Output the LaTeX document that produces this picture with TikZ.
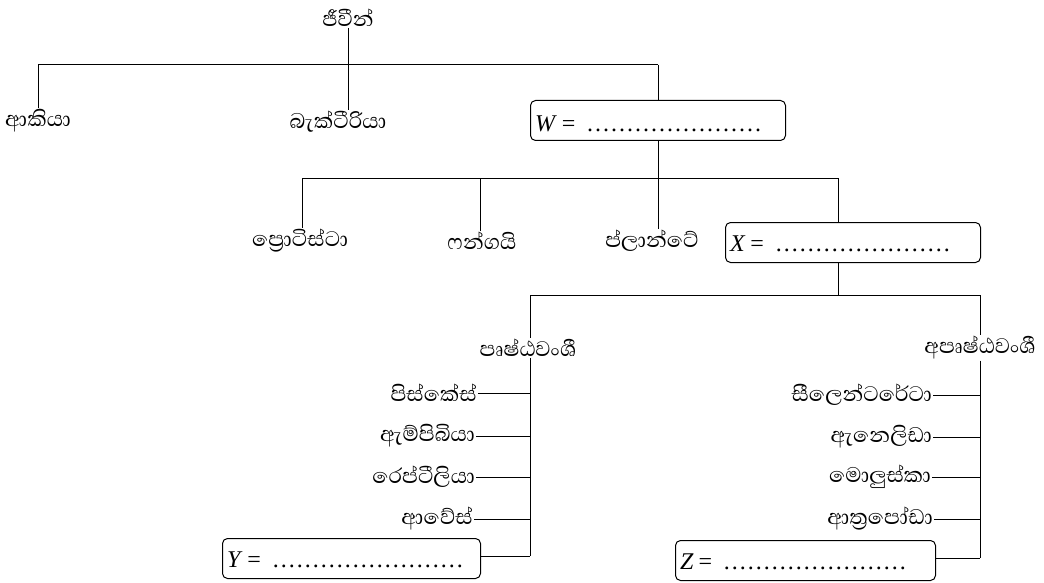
\documentclass[tikz,border=0pt]{standalone}
\usepackage{fontspec}
\setmainfont{Liberation Serif}
\newfontfamily\sinhfont[Script=Sinhala]{Abhaya Libre}
\newcommand\blank[2]{\textit{#1}\hspace{0.2em}=\hspace{0.45em}\hbox to #2{\leaders\hbox to 8pt{\hss.\hss}\hfill}}
\begin{document}
\begin{tikzpicture}[x=1pt,y=-1pt,
  lbl/.style={font=\sinhfont\fontsize{27}{30}\selectfont, inner sep=1pt},
  ansbox/.style={draw, rounded corners=5pt, line width=1pt, minimum height=40pt, anchor=north west, inner sep=0pt},
  anstxt/.style={anchor=west, inner sep=0pt, font=\fontsize{24}{26}\selectfont},
  ln/.style={line width=1pt}]
\useasboundingbox (0,0) rectangle (1044,583);
% level 0
\node[lbl] (root) at (348,18) {ජීවීන්};
\coordinate (r1) at (348,65);
\coordinate (rl) at (38,65);
\coordinate (rr) at (658,65);
\node[lbl] (arch) at (38,121) {ආකියා};
\node[lbl] (bact) at (338,122) {බැක්ටීරියා};
\node[ansbox, minimum width=255pt] (W) at (530,100) {};
\node[anstxt] at (535,124) {\blank{W}{178pt}};
\draw[ln] (root.south) -- (r1);
\draw[ln] (rl) -- (rr);
\draw[ln] (rl) -- (arch.north -| rl);
\draw[ln] (r1) -- (bact.north -| r1);
\draw[ln] (rr) -- (W.north -| rr);
% level 1
\coordinate (w1) at (658,178);
\coordinate (wl) at (302,178);
\coordinate (wr) at (838,178);
\node[lbl] (prot) at (300,241) {ප්‍රොටිස්ටා};
\node[lbl] (fung) at (482,241) {ෆන්ගයි};
\node[lbl] (plan) at (652,241) {ප්ලාන්ටේ};
\node[ansbox, minimum width=255pt] (X) at (725,222) {};
\node[anstxt] at (730,244) {\blank{X}{180pt}};
\draw[ln] (W.south -| w1) -- (w1);
\draw[ln] (wl) -- (wr);
\draw[ln] (wl) -- (prot.north -| wl);
\draw[ln] (480,178) -- (fung.north -| 480,0);
\draw[ln] (w1) -- (plan.north -| w1);
\draw[ln] (wr) -- (X.north -| wr);
% level 2
\coordinate (x1) at (838,295);
\coordinate (xl) at (530,295);
\coordinate (xr) at (980,295);
\node[lbl] (vert) at (528,348) {පෘෂ්ඨවංශී};
\node[lbl] (invt) at (980,348) {අපෘෂ්ඨවංශී};
\draw[ln] (X.south -| x1) -- (x1);
\draw[ln] (xl) -- (xr);
\draw[ln] (xl) -- (vert.north -| xl);
\draw[ln] (xr) -- (invt.north -| xr);
% vertebrates
\coordinate (vb) at (530,556);
\draw[ln] (vert.south -| xl) -- (vb);
\node[lbl, anchor=east] (pis) at (478,393) {පිස්කේස්};
\node[lbl, anchor=east] (amp) at (476,436) {ඇම්පිබියා};
\node[lbl, anchor=east] (rep) at (476,477) {රෙප්ටීලියා};
\node[lbl, anchor=east] (ave) at (474,519) {ආවේස්};
\foreach \n in {pis,amp,rep,ave} \draw[ln] (\n.east) -- (\n.east -| xl);
\node[ansbox, minimum width=258pt] (Y) at (222,538) {};
\node[anstxt] at (227,560) {\blank{Y}{198pt}};
\draw[ln] (Y.east |- vb) -- (vb);
% invertebrates
\coordinate (ib) at (980,558);
\draw[ln] (invt.south -| xr) -- (ib);
\node[lbl, anchor=east] (coel) at (933,395) {සීලෙන්ටරේටා};
\node[lbl, anchor=east] (anne) at (933,437) {ඇනෙලිඩා};
\node[lbl, anchor=east] (moll) at (932,477) {මොලුස්කා};
\node[lbl, anchor=east] (arth) at (934,519) {ආත්‍රපෝඩා};
\foreach \n in {coel,anne,moll,arth} \draw[ln] (\n.east) -- (\n.east -| xr);
\node[ansbox, minimum width=260pt] (Z) at (675,540) {};
\node[anstxt] at (680,562) {\blank{Z}{188pt}};
\draw[ln] (Z.east |- ib) -- (ib);
\end{tikzpicture}
\end{document}
